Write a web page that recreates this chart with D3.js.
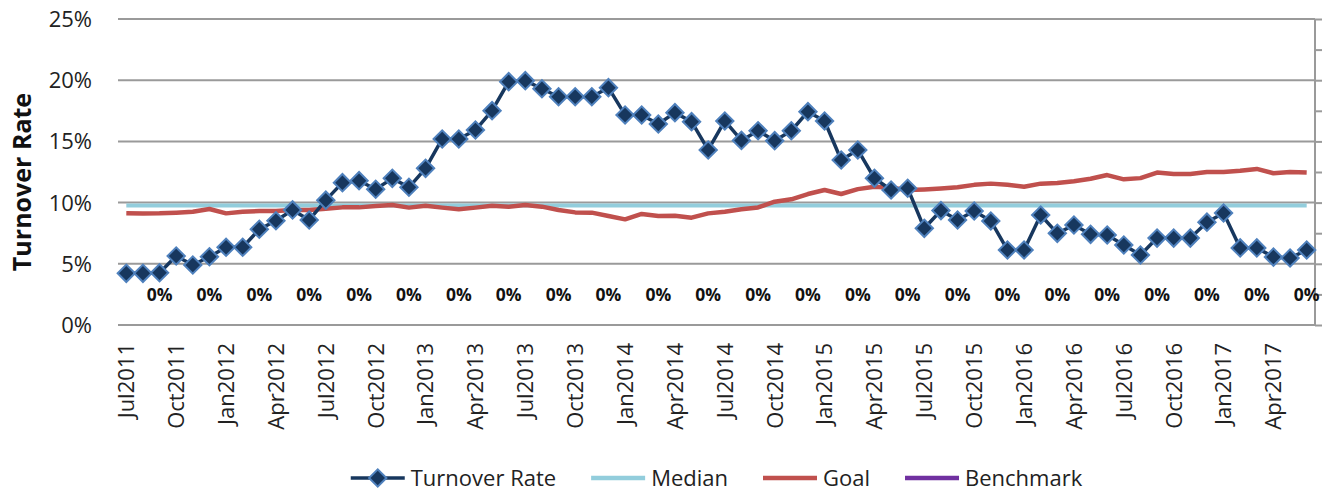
<!DOCTYPE html>
<html>
<head>
<meta charset="utf-8">
<script src="https://cdn.jsdelivr.net/npm/d3@7"></script>
<style>
  body { margin: 0; background: #fff; }
  svg { display: block; font-family: 'Open Sans', sans-serif; }
</style>
</head>
<body>
<div id="chart"></div>
<script>
const months = [
  'Jul2011', 'Aug2011', 'Sep2011', 'Oct2011', 'Nov2011', 'Dec2011',
  'Jan2012', 'Feb2012', 'Mar2012', 'Apr2012', 'May2012', 'Jun2012', 'Jul2012', 'Aug2012', 'Sep2012', 'Oct2012', 'Nov2012', 'Dec2012',
  'Jan2013', 'Feb2013', 'Mar2013', 'Apr2013', 'May2013', 'Jun2013', 'Jul2013', 'Aug2013', 'Sep2013', 'Oct2013', 'Nov2013', 'Dec2013',
  'Jan2014', 'Feb2014', 'Mar2014', 'Apr2014', 'May2014', 'Jun2014', 'Jul2014', 'Aug2014', 'Sep2014', 'Oct2014', 'Nov2014', 'Dec2014',
  'Jan2015', 'Feb2015', 'Mar2015', 'Apr2015', 'May2015', 'Jun2015', 'Jul2015', 'Aug2015', 'Sep2015', 'Oct2015', 'Nov2015', 'Dec2015',
  'Jan2016', 'Feb2016', 'Mar2016', 'Apr2016', 'May2016', 'Jun2016', 'Jul2016', 'Aug2016', 'Sep2016', 'Oct2016', 'Nov2016', 'Dec2016',
  'Jan2017', 'Feb2017', 'Mar2017', 'Apr2017', 'May2017', 'Jun2017'
];
const xTickLabels = [
  'Jul2011', 'Oct2011', 'Jan2012', 'Apr2012', 'Jul2012', 'Oct2012', 'Jan2013', 'Apr2013',
  'Jul2013', 'Oct2013', 'Jan2014', 'Apr2014', 'Jul2014', 'Oct2014', 'Jan2015', 'Apr2015',
  'Jul2015', 'Oct2015', 'Jan2016', 'Apr2016', 'Jul2016', 'Oct2016', 'Jan2017', 'Apr2017'
];
// turnover rate, percent
const turnover = [
  4.22, 4.22, 4.27, 5.64, 4.90, 5.58,
  6.35, 6.35, 7.82, 8.52, 9.40, 8.58, 10.20, 11.63, 11.79, 11.09, 11.98, 11.25,
  12.80, 15.20, 15.20, 15.93, 17.51, 19.88, 19.96, 19.30, 18.65, 18.65, 18.65, 19.39,
  17.16, 17.16, 16.42, 17.35, 16.61, 14.30, 16.67, 15.08, 15.87, 15.06, 15.87, 17.43,
  16.67, 13.48, 14.30, 11.99, 11.03, 11.17, 7.90, 9.35, 8.58, 9.31, 8.50, 6.13,
  6.13, 8.99, 7.49, 8.17, 7.41, 7.35, 6.54, 5.72, 7.10, 7.10, 7.10, 8.40,
  9.15, 6.30, 6.30, 5.55, 5.47, 6.13
];
const goal = [
  9.12, 9.10, 9.12, 9.18, 9.26, 9.48,
  9.12, 9.26, 9.31, 9.31, 9.40, 9.40, 9.50, 9.61, 9.61, 9.72, 9.80, 9.59,
  9.75, 9.59, 9.45, 9.59, 9.75, 9.67, 9.80, 9.67, 9.40, 9.20, 9.18, 8.90,
  8.63, 9.07, 8.90, 8.93, 8.77, 9.12, 9.26, 9.45, 9.60, 10.07, 10.27, 10.70,
  11.03, 10.70, 11.10, 11.30, 11.22, 11.03, 11.08, 11.16, 11.25, 11.45, 11.55, 11.45,
  11.30, 11.55, 11.60, 11.75, 11.95, 12.25, 11.90, 12.00, 12.45, 12.33, 12.33, 12.50,
  12.50, 12.60, 12.75, 12.40, 12.50, 12.45
];
const median = 9.77;
const benchmarkMonths = [
  'Sep2011', 'Dec2011', 'Mar2012', 'Jun2012', 'Sep2012', 'Dec2012', 'Mar2013', 'Jun2013',
  'Sep2013', 'Dec2013', 'Mar2014', 'Jun2014', 'Sep2014', 'Dec2014', 'Mar2015', 'Jun2015',
  'Sep2015', 'Dec2015', 'Mar2016', 'Jun2016', 'Sep2016', 'Dec2016', 'Mar2017', 'Jun2017'
];
const benchmark = [0, 0, 0, 0, 0, 0, 0, 0, 0, 0, 0, 0, 0, 0, 0, 0, 0, 0, 0, 0, 0, 0, 0, 0];
const yTicks = [0, 5, 10, 15, 20, 25];

const W = 1322, H = 494;
const plotL = 118, plotR = 1315, plotT = 19, plotB = 325;
const grid = '#9a9a9a', ink = '#222';

const svg = d3.select('#chart').append('svg').attr('width', W).attr('height', H);

const x = d3.scalePoint().domain(months).range([plotL, plotR]).padding(0.5);
const y = d3.scaleLinear().domain([0, 25]).range([plotB, plotT]);
// secondary axis (benchmark)
const y2 = d3.scaleLinear().domain([-1, 9]).range([plotB, plotT]);

// gridlines
svg.append('g').selectAll('line').data(yTicks).join('line')
  .attr('x1', plotL).attr('x2', plotR)
  .attr('y1', (d) => y(d)).attr('y2', (d) => y(d))
  .attr('stroke', grid).attr('stroke-width', 2);

// left tick labels
svg.append('g').selectAll('text').data(yTicks).join('text')
  .attr('x', 92).attr('y', (d) => y(d)).attr('dy', '0.36em')
  .attr('text-anchor', 'end').attr('font-size', 22).attr('fill', ink)
  .text((d) => d + '%');

// right secondary axis, no labels
const rAxis = svg.append('g').attr('transform', `translate(${plotR},0)`)
  .call(d3.axisRight(y2).ticks(10).tickSize(7).tickFormat(''));
rAxis.select('.domain').attr('stroke', grid).attr('stroke-width', 2).attr('d', `M0,${plotT}V${plotB}`);
rAxis.selectAll('.tick line').attr('stroke', grid).attr('stroke-width', 2);

// y title
svg.append('text')
  .attr('transform', `translate(31,${(plotT + plotB) / 2 + 10}) rotate(-90)`)
  .attr('text-anchor', 'middle').attr('font-size', 25).attr('font-weight', 700).attr('fill', '#111')
  .text('Turnover Rate');

// x labels
svg.append('g').selectAll('text').data(xTickLabels).join('text')
  .attr('transform', (d) => `translate(${x(d)},343) rotate(-90)`)
  .attr('dy', '0.36em').attr('text-anchor', 'end')
  .attr('font-size', 22).attr('fill', ink)
  .text((d) => d);

// median
svg.append('line')
  .attr('x1', x(months[0])).attr('x2', x(months[months.length - 1]))
  .attr('y1', y(median)).attr('y2', y(median))
  .attr('stroke', '#92CDDC').attr('stroke-width', 4);

// goal
svg.append('path').datum(goal)
  .attr('fill', 'none').attr('stroke', '#C0504D').attr('stroke-width', 4.5).attr('stroke-linejoin', 'round')
  .attr('d', d3.line().x((d, i) => x(months[i])).y((d) => y(d)));

// benchmark: quarterly points only, so no segments are drawn
const bmByMonth = new Map(benchmarkMonths.map((m, i) => [m, benchmark[i]]));
svg.append('path').datum(months)
  .attr('fill', 'none').attr('stroke', '#7030A0').attr('stroke-width', 3)
  .attr('d', d3.line().defined((m, i) => (bmByMonth.has(m) && bmByMonth.has(months[i + 1])) || false)
    .x((m) => x(m)).y((m) => y2(bmByMonth.get(m) || 0)));
svg.append('g').selectAll('text').data(benchmarkMonths).join('text')
  .attr('x', (d) => x(d)).attr('y', (d, i) => y2(benchmark[i])).attr('dy', '0.36em')
  .attr('text-anchor', 'middle').attr('font-size', 17.5).attr('font-weight', 700).attr('fill', '#111')
  .text((d, i) => d3.format('.0%')(benchmark[i]));

// turnover
svg.append('path').datum(turnover)
  .attr('fill', 'none').attr('stroke', '#17375E').attr('stroke-width', 3.5).attr('stroke-linejoin', 'round')
  .attr('d', d3.line().x((d, i) => x(months[i])).y((d) => y(d)));
const diamond = d3.symbol().type(d3.symbolSquare).size(150);
svg.append('g').selectAll('path').data(turnover).join('path')
  .attr('d', diamond)
  .attr('transform', (d, i) => `translate(${x(months[i])},${y(d)}) rotate(45)`)
  .attr('fill', '#17375E').attr('stroke', '#4F81BD').attr('stroke-width', 2);

// legend
const items = [
  { name: 'Turnover Rate', color: '#17375E', marker: true },
  { name: 'Median', color: '#92CDDC' },
  { name: 'Goal', color: '#C0504D' },
  { name: 'Benchmark', color: '#7030A0' },
];
const lg = svg.append('g');
let lx = 0;
const ly = 478;
items.forEach((it) => {
  const g = lg.append('g').attr('transform', `translate(${lx},0)`);
  g.append('line').attr('x1', 0).attr('x2', 54).attr('y1', ly).attr('y2', ly)
    .attr('stroke', it.color).attr('stroke-width', it.marker ? 3.5 : 4.5);
  if (it.marker) {
    g.append('path').attr('d', diamond).attr('transform', `translate(27,${ly}) rotate(45)`)
      .attr('fill', '#17375E').attr('stroke', '#4F81BD').attr('stroke-width', 2);
  }
  const t = g.append('text').attr('x', 60).attr('y', ly).attr('dy', '0.36em')
    .attr('font-size', 22).attr('fill', ink).text(it.name);
  lx += 60 + t.node().getComputedTextLength() + 35;
});
const lw = lx - 35;
lg.attr('transform', `translate(${(plotL + plotR) / 2 - lw / 2},0)`);
</script>
</body>
</html>
